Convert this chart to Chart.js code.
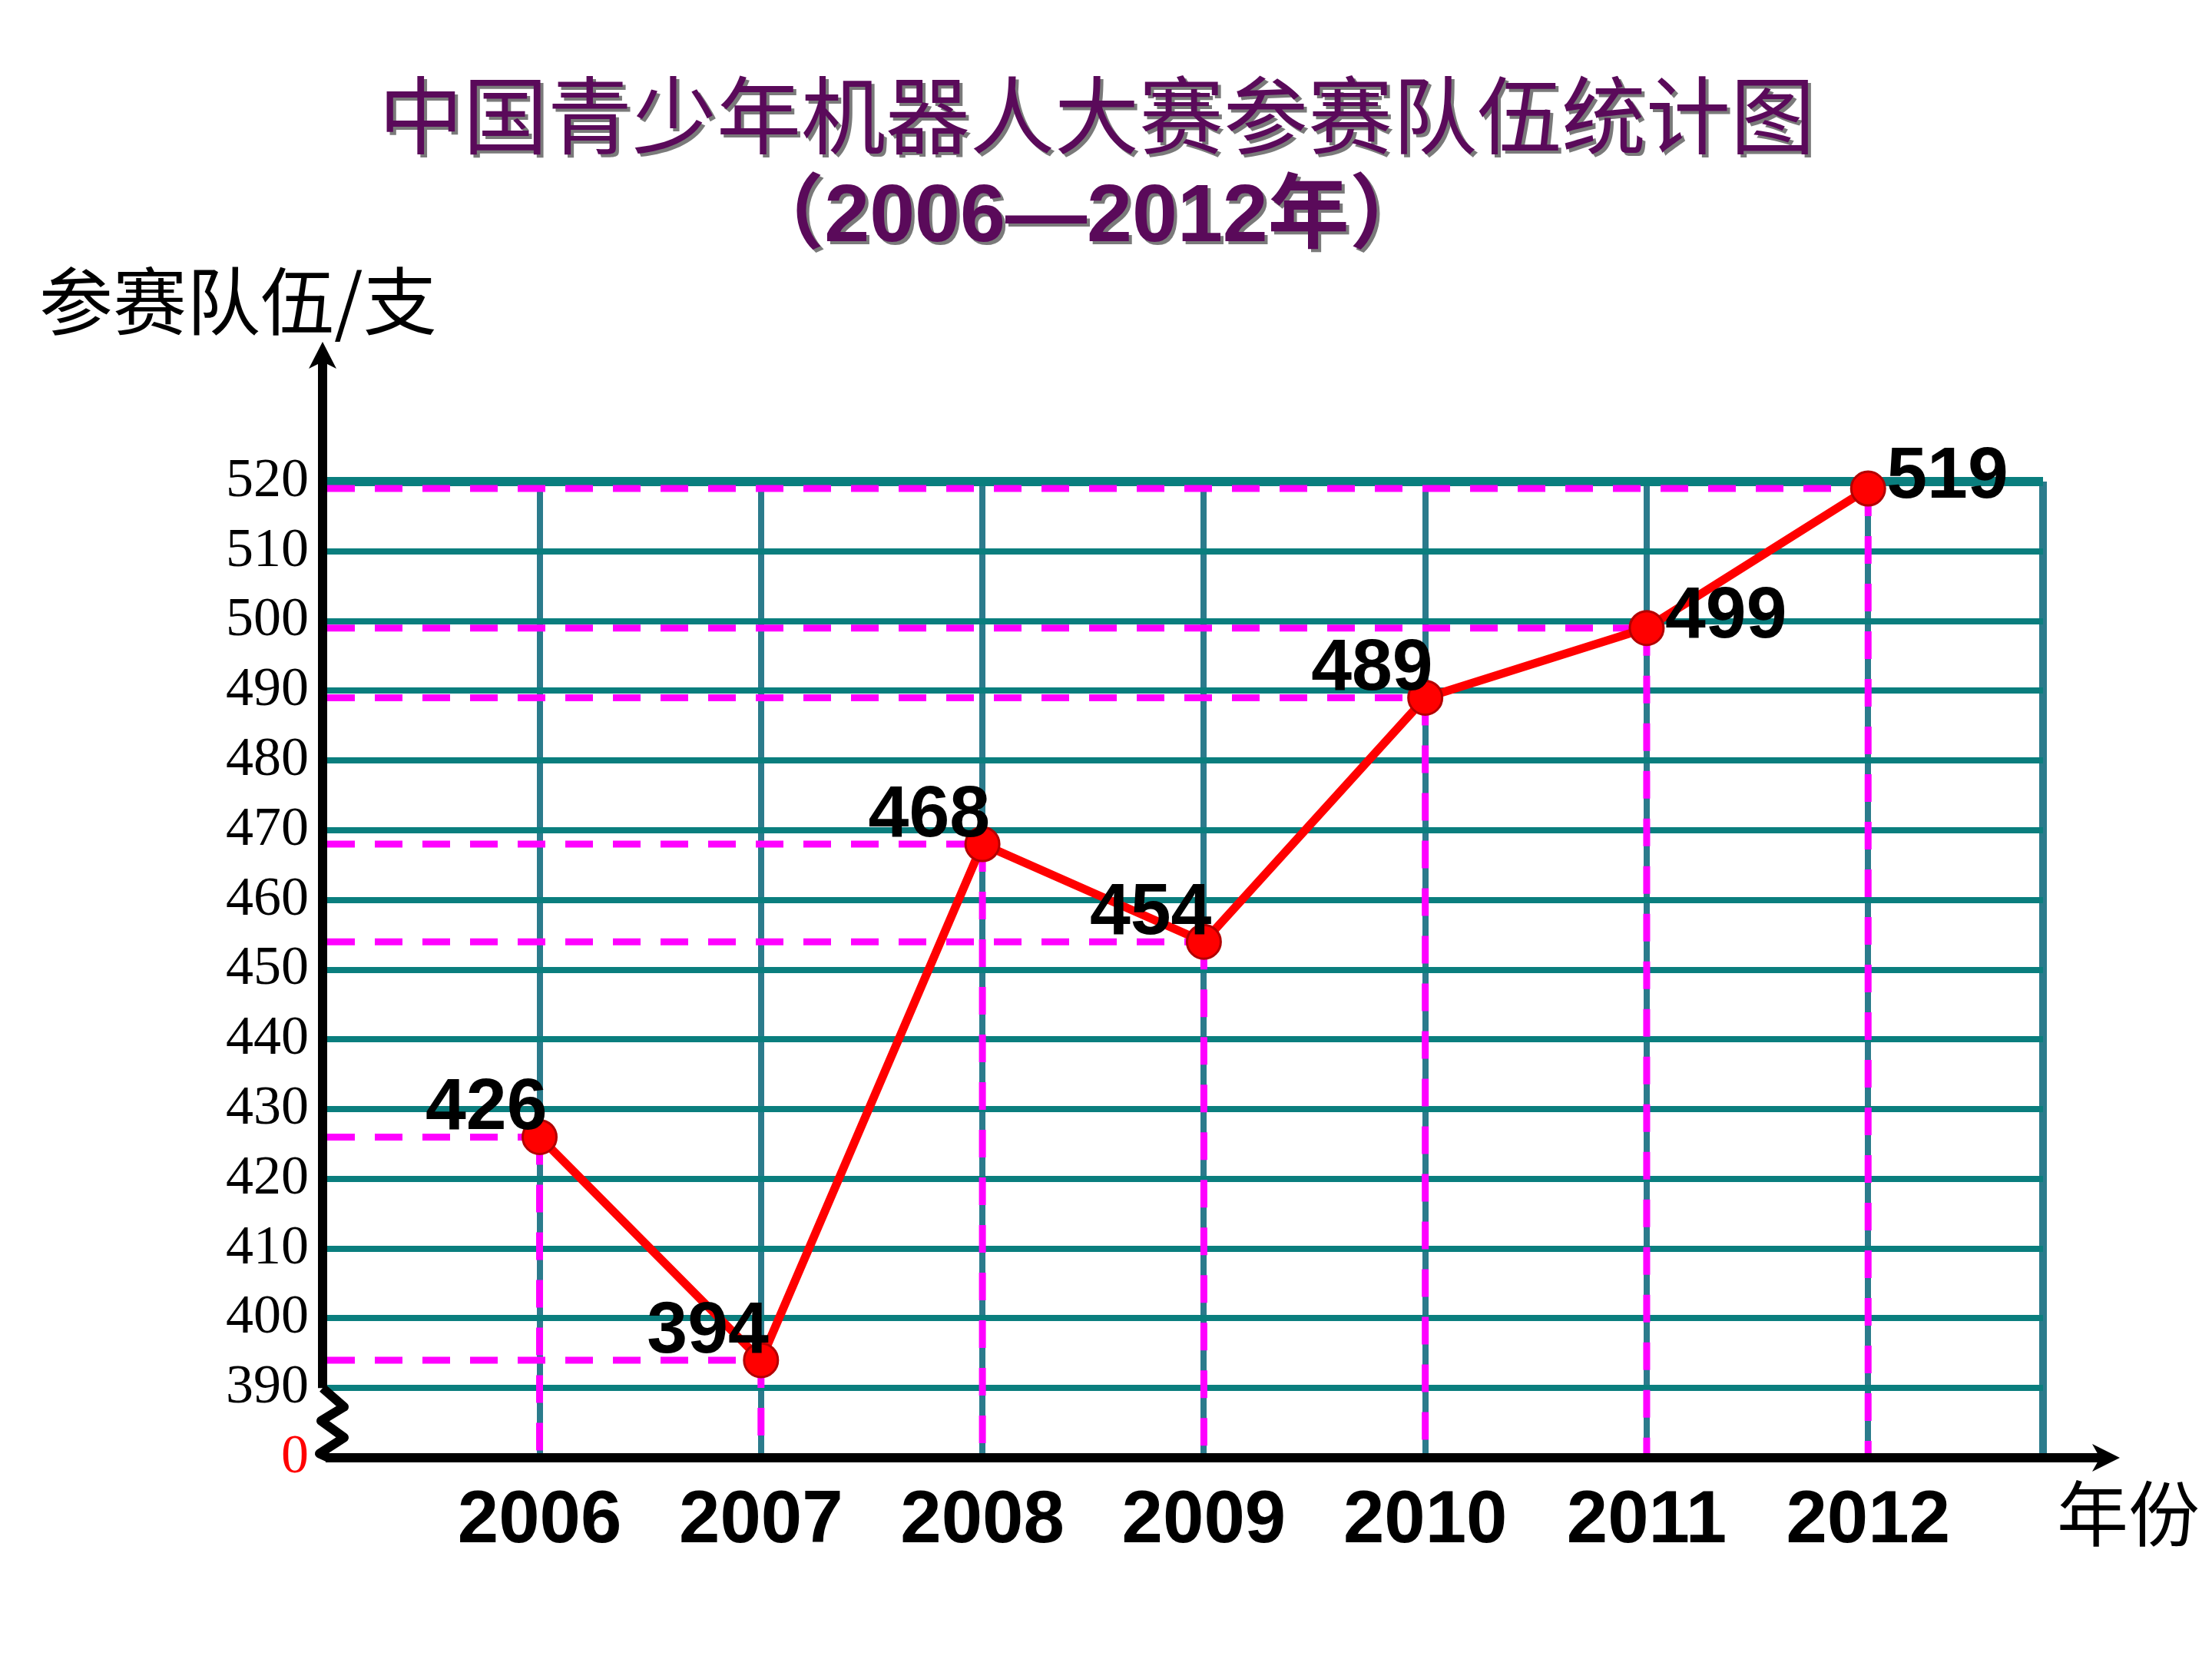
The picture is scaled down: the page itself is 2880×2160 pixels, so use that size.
<!DOCTYPE html>
<html>
<head>
<meta charset="utf-8">
<title>中国青少年机器人大赛参赛队伍统计图</title>
<script src="https://cdn.jsdelivr.net/npm/chart.js@4"></script>
<style>
html, body { margin: 0; padding: 0; background: #fff; }
canvas { display: block; }
</style>
</head>
<body>
<canvas id="teamChart" width="2880" height="2160"></canvas>
<script>
// Years on the x axis
var years = [2006, 2007, 2008, 2009, 2010, 2011, 2012];
// Number of teams taking part each year
var teams = [426, 394, 468, 454, 489, 499, 519];
// Y axis tick values (380 sits on the broken axis and is shown as "0")
var yTickValues = [380, 390, 400, 410, 420, 430, 440, 450, 460, 470, 480, 490, 500, 510, 520];

var titleText = '中国青少年机器人大赛参赛队伍统计图';
var subtitleText = '（2006—2012年）';
var yAxisTitle = '参赛队伍/支';
var xAxisTitle = '年份';

// which side of the point each value label sits on
var labelSide = ['left', 'left', 'left', 'left', 'left', 'right', 'right'];

function drawAxes(chart) {
    var ctx = chart.ctx;
    var area = chart.chartArea;
    var yScale = chart.scales.y;
    var x0 = area.left;
    var yb = area.bottom;
    var yBreak = yScale.getPixelForValue(390);
    var gap = yb - yBreak;
    var topTip = area.top - 182;
    var rightTip = area.right + 100;

    ctx.save();
    ctx.strokeStyle = '#000';
    ctx.fillStyle = '#000';

    // y axis up to the arrow
    ctx.lineWidth = 12;
    ctx.beginPath();
    ctx.moveTo(x0, topTip + 25);
    ctx.lineTo(x0, yBreak);
    ctx.stroke();

    // the break between 390 and 0
    ctx.lineWidth = 12;
    ctx.lineJoin = 'round';
    ctx.beginPath();
    ctx.moveTo(x0, yBreak);
    ctx.lineTo(x0 + 28, yBreak + gap * 0.27);
    ctx.lineTo(x0 - 2, yBreak + gap * 0.47);
    ctx.lineTo(x0 + 28, yBreak + gap * 0.71);
    ctx.lineTo(x0 - 4, yBreak + gap * 0.94);
    ctx.lineTo(x0 + 8, yb);
    ctx.stroke();

    // x axis
    ctx.lineWidth = 12;
    ctx.beginPath();
    ctx.moveTo(x0 + 4, yb);
    ctx.lineTo(rightTip - 25, yb);
    ctx.stroke();

    // arrow heads
    ctx.beginPath();
    ctx.moveTo(x0, topTip);
    ctx.lineTo(x0 - 18, topTip + 35);
    ctx.lineTo(x0, topTip + 26);
    ctx.lineTo(x0 + 18, topTip + 35);
    ctx.closePath();
    ctx.fill();

    ctx.beginPath();
    ctx.moveTo(rightTip, yb);
    ctx.lineTo(rightTip - 36, yb - 18);
    ctx.lineTo(rightTip - 26, yb);
    ctx.lineTo(rightTip - 36, yb + 18);
    ctx.closePath();
    ctx.fill();
    ctx.restore();
}

function shadowText(ctx, text, x, y) {
    ctx.fillStyle = '#7a7a7a';
    ctx.fillText(text, x + 4, y + 4);
    ctx.fillStyle = '#5a0a5a';
    ctx.fillText(text, x, y);
}

var decorPlugin = {
    id: 'decor',
    beforeDatasetsDraw: function(chart) {
        var ctx = chart.ctx;
        var area = chart.chartArea;
        var meta = chart.getDatasetMeta(0);

        // magenta guide lines from each point to both axes
        ctx.save();
        ctx.strokeStyle = '#ff00ff';
        ctx.lineWidth = 9;
        ctx.setLineDash([36, 26]);
        meta.data.forEach(function(pt) {
            ctx.beginPath();
            ctx.moveTo(area.left + 6, pt.y);
            ctx.lineTo(pt.x, pt.y);
            ctx.stroke();
            ctx.beginPath();
            ctx.moveTo(pt.x, pt.y);
            ctx.lineTo(pt.x, area.bottom);
            ctx.stroke();
        });
        ctx.restore();

        drawAxes(chart);
    },
    afterDatasetsDraw: function(chart) {
        var ctx = chart.ctx;
        var meta = chart.getDatasetMeta(0);
        ctx.save();
        ctx.font = "bold 95px 'Liberation Sans', Arial, sans-serif";
        ctx.fillStyle = '#000';
        meta.data.forEach(function(pt, i) {
            var text = String(teams[i]);
            if (labelSide[i] === 'left') {
                ctx.textAlign = 'right';
                ctx.textBaseline = 'alphabetic';
                ctx.fillText(text, pt.x + 10, pt.y - 10);
            } else {
                ctx.textAlign = 'left';
                ctx.textBaseline = 'middle';
                ctx.fillText(text, pt.x + 24, pt.y - 14);
            }
        });
        ctx.restore();
    },
    afterDraw: function(chart) {
        var ctx = chart.ctx;
        var area = chart.chartArea;
        ctx.save();
        ctx.textBaseline = 'middle';
        ctx.textAlign = 'center';

        ctx.font = "110px 'Noto Sans CJK SC', sans-serif";
        shadowText(ctx, titleText, 1428, 150);

        ctx.font = "bold 106px 'Liberation Sans', 'Noto Sans CJK SC', sans-serif";
        shadowText(ctx, subtitleText, 1415, 285);

        ctx.fillStyle = '#000';
        ctx.textAlign = 'left';
        ctx.font = "96px 'Noto Sans CJK SC', sans-serif";
        ctx.fillText(yAxisTitle, 51, 392);

        ctx.font = "93px 'Noto Sans CJK SC', sans-serif";
        ctx.fillText(xAxisTitle, area.right + 18, area.bottom + 73);
        ctx.restore();
    }
};

var chartCanvas = document.getElementById('teamChart').getContext('2d');

var teamChart = new Chart(chartCanvas, {
    type: 'line',
    data: {
        datasets: [{
            label: '参赛队伍',
            data: years.map(function(y, i) { return { x: y, y: teams[i] }; }),
            borderColor: '#ff0000',
            borderWidth: 11,
            tension: 0,
            pointRadius: 22,
            pointBackgroundColor: '#ff0000',
            pointBorderColor: '#b30000',
            pointBorderWidth: 3,
            clip: false
        }]
    },
    options: {
        responsive: false,
        devicePixelRatio: 1,
        animation: false,
        events: [],
        layout: {
            padding: { top: 627, right: 220, bottom: 0, left: 0 }
        },
        plugins: {
            legend: { display: false },
            title: { display: false },
            tooltip: { enabled: false }
        },
        scales: {
            x: {
                type: 'linear',
                min: 2005.02,
                max: 2012.79,
                afterFit: function(scale) { scale.height = 262; },
                afterBuildTicks: function(scale) {
                    scale.ticks = years.map(function(v) { return { value: v }; })
                        .concat([{ value: scale.max }]);
                },
                border: { display: false },
                grid: {
                    color: '#2b7b8c',
                    lineWidth: function(c) { return c.tick && c.tick.value === c.scale.max ? 10 : 8; },
                    drawTicks: false
                },
                ticks: {
                    padding: 26,
                    maxRotation: 0,
                    autoSkip: false,
                    color: '#000',
                    font: { family: "'Liberation Sans', Arial, sans-serif", size: 96, weight: 'bold' },
                    callback: function(value) {
                        return years.indexOf(value) >= 0 ? String(value) : '';
                    }
                }
            },
            y: {
                type: 'linear',
                min: 380,
                max: 520,
                afterFit: function(scale) { scale.width = 420; },
                afterBuildTicks: function(scale) {
                    scale.ticks = yTickValues.map(function(v) { return { value: v }; });
                },
                border: { display: false },
                grid: {
                    color: function(c) { return c.tick && c.tick.value === 380 ? 'rgba(0,0,0,0)' : '#0a7e7e'; },
                    lineWidth: function(c) { return c.tick && c.tick.value === 520 ? 12 : 8; },
                    drawTicks: false
                },
                ticks: {
                    padding: 18,
                    autoSkip: false,
                    color: function(c) { return c.tick && c.tick.value === 380 ? '#ff0000' : '#000'; },
                    font: { family: "'Liberation Serif', 'Times New Roman', serif", size: 72 },
                    callback: function(value) {
                        return value === 380 ? '0' : String(value);
                    }
                }
            }
        }
    },
    plugins: [decorPlugin]
});
</script>
</body>
</html>
